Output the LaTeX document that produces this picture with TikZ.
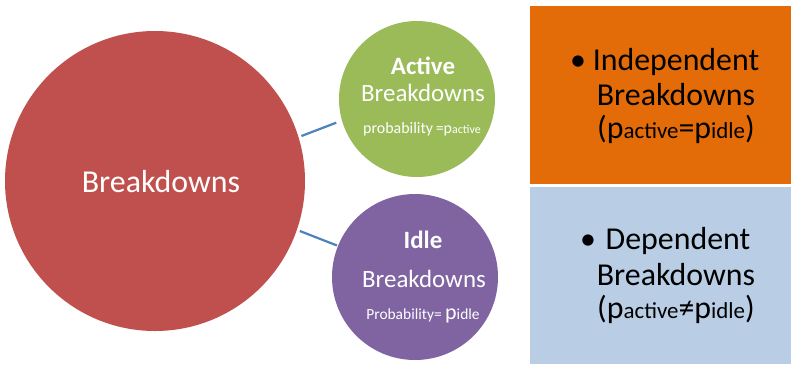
\documentclass[tikz,border=0pt]{standalone}
\usepackage{fontspec}
\setmainfont{Carlito}
\definecolor{bigred}{HTML}{C0504D}
\definecolor{green1}{HTML}{9BBB59}
\definecolor{purple1}{HTML}{8064A2}
\definecolor{orange1}{HTML}{E36C09}
\definecolor{blue1}{HTML}{B9CDE5}
\definecolor{line1}{HTML}{4F81BD}
\newcommand{\fsz}[1]{\fontsize{#1}{#1}\selectfont}
\tikzset{
  circ/.style={circle, inner sep=0pt, draw=none},
  txt/.style={inner sep=0pt, anchor=base, text=white},
  btxt/.style={inner sep=0pt, anchor=base, text=black},
  conn/.style={draw=line1, line width=2.2pt}
}
\begin{document}
\begin{tikzpicture}[x=1bp,y=-1bp]
\useasboundingbox (0,0) rectangle (791,365);
\fill[white] (0,0) rectangle (791,365);
% circles
\node[circ, fill=bigred, minimum size=300bp] (big) at (155,181) {};
\node[circ, fill=green1, minimum size=156bp] (act) at (417,99) {};
\node[circ, fill=purple1, minimum size=166bp] (idle) at (415,277) {};
% connectors
\draw[conn, shorten <=3bp, shorten >=6bp] (big.17.8) -- (act.196.5);
\draw[conn, shorten <=3bp, shorten >=1bp] (big.-19.5) -- (idle.158);
% boxes
\fill[orange1] (530,6) rectangle (791,184);
\fill[blue1] (530,187) rectangle (791,364);
% big circle text
\node[txt] (bt) at (161,192) {\fsz{32}Breakdowns};
% active
\node[txt] (a1) at (423,74) {\fsz{25}\bfseries Active};
\node[txt] (a2) at (423,101) {\fsz{25}Breakdowns};
\node[txt] (a3) at (422,133) {\fsz{16}probability\,=p{\fsz{12}active}};
% idle
\node[txt] (i1) at (423,248) {\fsz{25}\bfseries Idle};
\node[txt] (i2) at (424,287) {\fsz{25}Breakdowns};
\node[txt] (i3) at (423,319) {\fsz{15.5}Probability= {\fsz{22}p}{\fsz{15.5}idle}};
% right texts
\node[btxt] (ob) at (578,70) {\fsz{32}•};
\node[btxt] (o1) at (676,70) {\fsz{32}Independent};
\node[btxt] (o2) at (676,105) {\fsz{32}Breakdowns};
\node[btxt] (o3) at (676,138) {\fsz{32}(p{\fsz{23}active}=p{\fsz{23}idle})};
\node[btxt] (db) at (588,249) {\fsz{32}•};
\node[btxt] (d1) at (678,249) {\fsz{32}Dependent};
\node[btxt] (d2) at (676,285) {\fsz{32}Breakdowns};
\node[btxt] (d3) at (676,318) {\fsz{32}(p{\fsz{23}active}≠p{\fsz{23}idle})};
\end{tikzpicture}
\end{document}
